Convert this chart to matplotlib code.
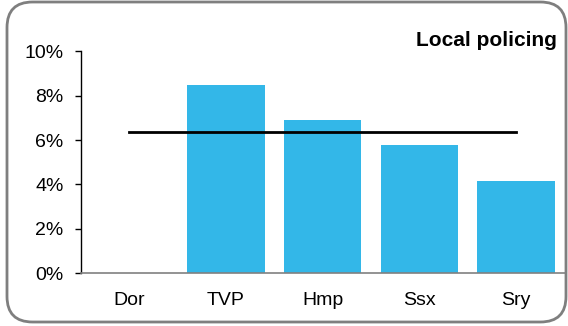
import matplotlib.pyplot as plt
from matplotlib.patches import FancyBboxPatch
from matplotlib.ticker import FuncFormatter

plt.rcParams['font.family'] = ['Liberation Sans', 'DejaVu Sans']

# data
areas = ['Dor', 'TVP', 'Hmp', 'Ssx', 'Sry']
values = [0.0, 8.5, 6.9, 5.8, 4.15]
average = 6.35

fig = plt.figure(figsize=(5.68, 3.26), dpi=100)

# rounded grey frame round the whole chart
frame = FancyBboxPatch((7 / 568, 4 / 326), 559 / 568, 320 / 326,
                       boxstyle='round,pad=0,rounding_size=0.045',
                       transform=fig.transFigure, facecolor='none',
                       edgecolor='#7f7f7f', linewidth=2, mutation_aspect=568 / 326)
fig.patches.append(frame)

ax = fig.add_axes([81 / 568, 1 - 273 / 326, (564.5 - 81) / 568, (273 - 51.5) / 326])
ax.patch.set_alpha(0)

x = range(len(areas))
ax.bar(x, values, width=0.8, color='#33b7e8', zorder=2)
ax.plot([0, len(areas) - 1], [average, average], color='black', linewidth=2, zorder=3)

ax.set_xlim(-0.5, len(areas) - 0.5)
ax.set_ylim(0, 10)
ax.set_yticks(range(0, 11, 2))
ax.yaxis.set_major_formatter(FuncFormatter(lambda v, p: f'{v:.0f}%'))
ax.set_xticks(list(x))
ax.set_xticklabels(areas)

ax.tick_params(axis='y', direction='out', length=4.5, width=1, pad=8, labelsize=14)
ax.tick_params(axis='x', length=0, pad=14, labelsize=14)

for s in ['top', 'right']:
    ax.spines[s].set_visible(False)
ax.spines['left'].set_color('black')
ax.spines['left'].set_linewidth(1)
ax.spines['bottom'].set_color('#808080')
ax.spines['bottom'].set_linewidth(1.2)

fig.text(557 / 568, 1 - 40 / 326, 'Local policing', ha='right', va='center',
         fontsize=15, fontweight='bold')

fig.savefig('out.png', dpi=100)
